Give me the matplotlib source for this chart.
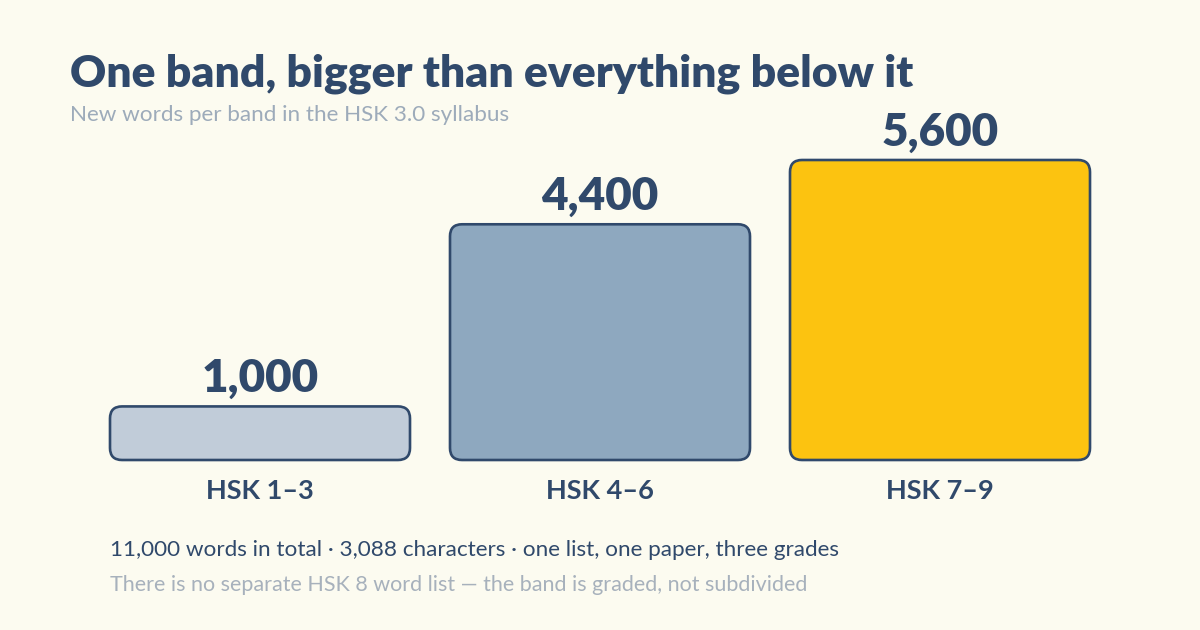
import matplotlib.pyplot as plt
from matplotlib.patches import FancyBboxPatch

bands = ['HSK 1–3', 'HSK 4–6', 'HSK 7–9']
words = [1000, 4400, 5600]
value_labels = ['1,000', '4,400', '5,600']
bar_colors = ['#C1CCD9', '#8EA8BF', '#FCC310']

bg = '#FCFBF0'
ink = '#30496B'
grey = '#9DABBA'

plt.rcParams['font.family'] = ['Lato', 'DejaVu Sans']

fig = plt.figure(figsize=(12, 6.3), dpi=100, facecolor=bg)

# axes box: bars from x=110..1090 px, baseline at y=460 px, top of tallest bar at 160 px
W, H = 1200, 630
ax = fig.add_axes([110 / W, (H - 460) / H, 980 / W, 300 / H])
ax.set_facecolor(bg)
bw = 300 / 340
ax.set_xlim(-bw / 2, 2 + bw / 2)
ax.set_ylim(0, 5600)
ax.axis('off')

px_x = 340          # px per x unit
px_y = 300 / 5600   # px per word
r = 12 / px_x
aspect = (12 / px_y) / r

for i, (v, c, lab) in enumerate(zip(words, bar_colors, value_labels)):
    box = FancyBboxPatch((i - bw / 2, 0), bw, v,
                         boxstyle=f'round,pad=0,rounding_size={r}',
                         mutation_aspect=aspect,
                         facecolor=c, edgecolor=ink, linewidth=1.9,
                         clip_on=False)
    ax.add_patch(box)
    ax.annotate(lab, (i, v), xytext=(0, 5), textcoords='offset points',
                ha='center', va='bottom', fontsize=33, fontweight='heavy',
                color=ink, annotation_clip=False)
    ax.annotate(bands[i], (i, 0), xytext=(0, -14), textcoords='offset points',
                ha='center', va='top', fontsize=19.5, fontweight='bold',
                color=ink, annotation_clip=False)

fig.text(70 / W, 1 - 86 / H, 'One band, bigger than everything below it',
         fontsize=32, fontweight='heavy', color=ink, va='baseline')
fig.text(70 / W, 1 - 121 / H, 'New words per band in the HSK 3.0 syllabus',
         fontsize=16.2, color=grey, va='baseline')
fig.text(110 / W, 1 - 556 / H,
         '11,000 words in total · 3,088 characters · one list, one paper, three grades',
         fontsize=16.2, color=ink, va='baseline')
fig.text(110 / W, 1 - 591 / H,
         'There is no separate HSK 8 word list — the band is graded, not subdivided',
         fontsize=15.5, color='#A7B1BC', va='baseline')

fig.savefig('out.png', dpi=100, facecolor=bg)
